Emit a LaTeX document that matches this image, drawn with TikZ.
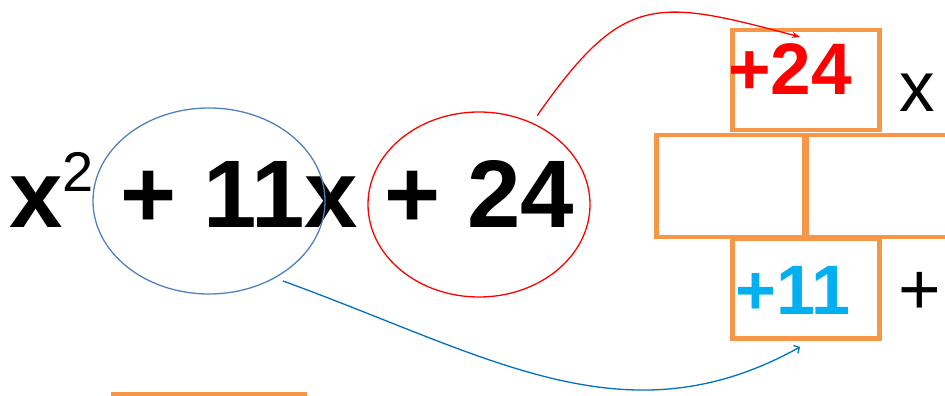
\documentclass[tikz,border=0pt]{standalone}
\usepackage{fontspec}
\setmainfont{Liberation Sans}
\usetikzlibrary{arrows.meta,positioning,shapes.geometric}
\definecolor{boxorange}{HTML}{F79646}
\definecolor{ovalblue}{HTML}{4F81BD}
\definecolor{arrowblue}{HTML}{0070C0}
\definecolor{coefcyan}{HTML}{00B0F0}

\begin{document}
\begin{tikzpicture}[
  x=1pt, y=1pt,
  cell/.style={draw=boxorange, line width=4.5pt, minimum width=147pt, minimum height=100pt, inner sep=0pt},
  wide/.style={cell, minimum width=148pt, minimum height=102pt},
  ring/.style={draw, ellipse, line width=1.3pt, inner sep=0pt},
  term/.style={inner sep=0pt, anchor=base west},
  arr/.style={line width=1.3pt}
]
\clip (0,0) rectangle (945,396);

\node[term, font=\fontsize{96}{100}\selectfont\bfseries] (poly) at (9,168)
  {x\raisebox{36pt}{\mdseries\fontsize{56}{56}\selectfont 2} + 11x + 24};
\node[ring, draw=ovalblue, minimum width=232pt, minimum height=186pt] (oval11) at (209,195) {};
\node[ring, draw=red, minimum width=222pt, minimum height=185pt] (oval24) at (479,191.5) {};

% the box grid
\node[cell] (top) at (806,315.75) {};
\node[wide] (midl) at (730.5,210) {};
\node[wide] (midr) at (880.5,210) {};
\node[cell] (bot) at (806,107.25) {};
\draw[boxorange, line width=4.5pt] (111,2) -- (307,2);

\node[term, font=\fontsize{73}{73}\selectfont\bfseries, text=red] (c24) at (728,301) {+24};
\node[term, font=\fontsize{71}{71}\selectfont] (mulx) at (899,284) {x};
\node[term, font=\fontsize{70}{70}\selectfont\bfseries, text=coefcyan] (c11) at (735,81) {+11};
\node[term, font=\fontsize{73}{73}\selectfont] (plus) at (898,81) {+};

\coordinate (from24) at ([shift={(5pt,7pt)}]oval24.57);
\coordinate (to24) at ([xshift=-6pt,yshift=-9pt]top.north);
\coordinate (from11) at ([shift={(4pt,-5pt)}]oval11.-47);
\coordinate (to11) at ([xshift=-6pt,yshift=-6pt]bot.south);
\draw[arr, red, -{Stealth[length=8pt,width=6pt]}] (from24) .. controls +(55:150) and +(165:150) .. (to24);
\draw[arr, arrowblue, -{Straight Barb[length=4pt,width=9pt]}] (from11) .. controls +(-20:220) and +(209:200) .. (to11);
\end{tikzpicture}
\end{document}
